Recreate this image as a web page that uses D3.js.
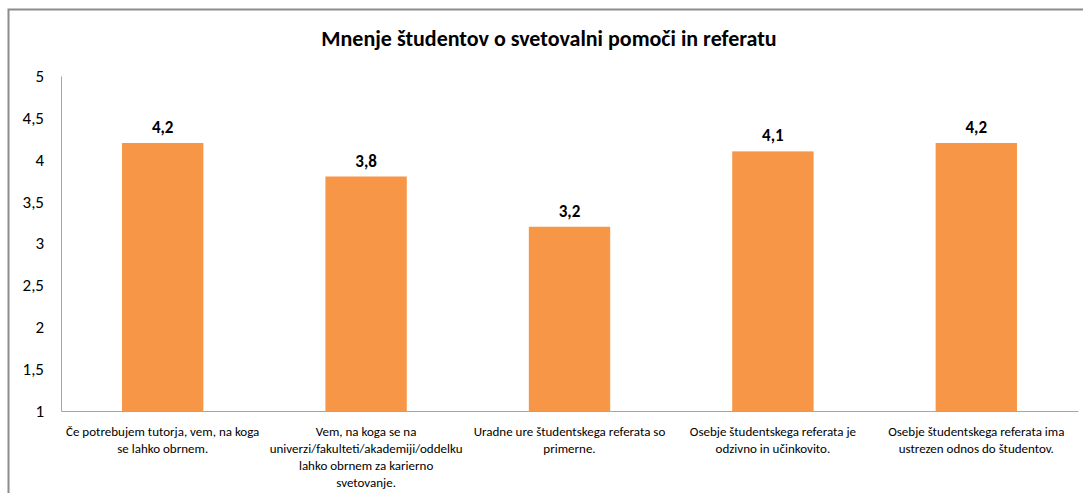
<!DOCTYPE html>
<html><head><meta charset="utf-8">
<script src="https://cdn.jsdelivr.net/npm/d3@7"></script>
<style>body{margin:0;background:#fff}svg{display:block}</style>
</head><body>
<svg id="c" width="1083" height="493"></svg>
<script>
const title = "Mnenje študentov o svetovalni pomoči  in referatu";
const categories = [
  ["Če potrebujem tutorja, vem, na koga", "se lahko obrnem."],
  ["Vem, na koga se na", "univerzi/fakulteti/akademiji/oddelku", "lahko obrnem za karierno", "svetovanje."],
  ["Uradne ure študentskega referata so", "primerne."],
  ["Osebje študentskega referata je", "odzivno in učinkovito."],
  ["Osebje študentskega referata ima", "ustrezen odnos do študentov."]
];
const values = [4.2, 3.8, 3.2, 4.1, 4.2];
const yTicks = [1, 1.5, 2, 2.5, 3, 3.5, 4, 4.5, 5];

const svg = d3.select("#c");
const font = "Carlito, Calibri, 'Liberation Sans', Arial, sans-serif";
const m = {left: 61, right: 1078, top: 76, bottom: 411};

// outer border
svg.append("path").attr("d", "M8.5,500 V9.5 H1090").attr("fill", "none")
  .attr("stroke", "#8c8c8c").attr("stroke-width", 2);

const x = d3.scaleBand().domain(d3.range(values.length)).range([m.left, m.right]).paddingInner(0.6).paddingOuter(0.3);
const y = d3.scaleLinear().domain([1, 5]).range([m.bottom, m.top]);

svg.append("text").attr("x", 549).attr("y", 46).attr("text-anchor", "middle")
  .attr("font-family", font).attr("font-weight", "bold").attr("font-size", 22)
  .attr("fill", "#000").text(title);

// y axis
const ya = svg.append("g").attr("transform", `translate(${m.left},0)`)
  .call(d3.axisLeft(y).tickValues(yTicks).tickSize(0).tickPadding(17)
    .tickFormat(d => String(d).replace(".", ",")));
ya.select(".domain").attr("stroke", "#a6a6a6").attr("stroke-width", 1);
ya.selectAll("text").attr("font-family", font).attr("font-size", 17).attr("fill", "#000");

// bars
svg.selectAll("rect.bar").data(values).join("rect").attr("class", "bar")
  .attr("x", (d, i) => x(i)).attr("width", x.bandwidth())
  .attr("y", d => y(d)).attr("height", d => y(1) - y(d)).attr("fill", "#f79646");

// data labels
svg.selectAll("text.lbl").data(values).join("text").attr("class", "lbl")
  .attr("x", (d, i) => x(i) + x.bandwidth() / 2).attr("y", d => y(d) - 10)
  .attr("text-anchor", "middle").attr("font-family", font).attr("font-weight", "bold")
  .attr("font-size", 17).attr("fill", "#000").text(d => String(d).replace(".", ","));

// x axis
const xa = svg.append("g").attr("transform", `translate(0,${m.bottom})`)
  .call(d3.axisBottom(x).tickSize(0).tickFormat(""));
xa.select(".domain").attr("stroke", "#a6a6a6").attr("stroke-width", 1);

const cat = svg.selectAll("text.cat").data(categories).join("text").attr("class", "cat")
  .attr("text-anchor", "middle").attr("font-family", font).attr("font-size", 13).attr("fill", "#000");
cat.each(function(lines, i) {
  d3.select(this).selectAll("tspan").data(lines).join("tspan")
    .attr("x", x(i) + x.bandwidth() / 2).attr("y", (d, j) => 436 + j * 17).text(d => d);
});
</script>
</body></html>
